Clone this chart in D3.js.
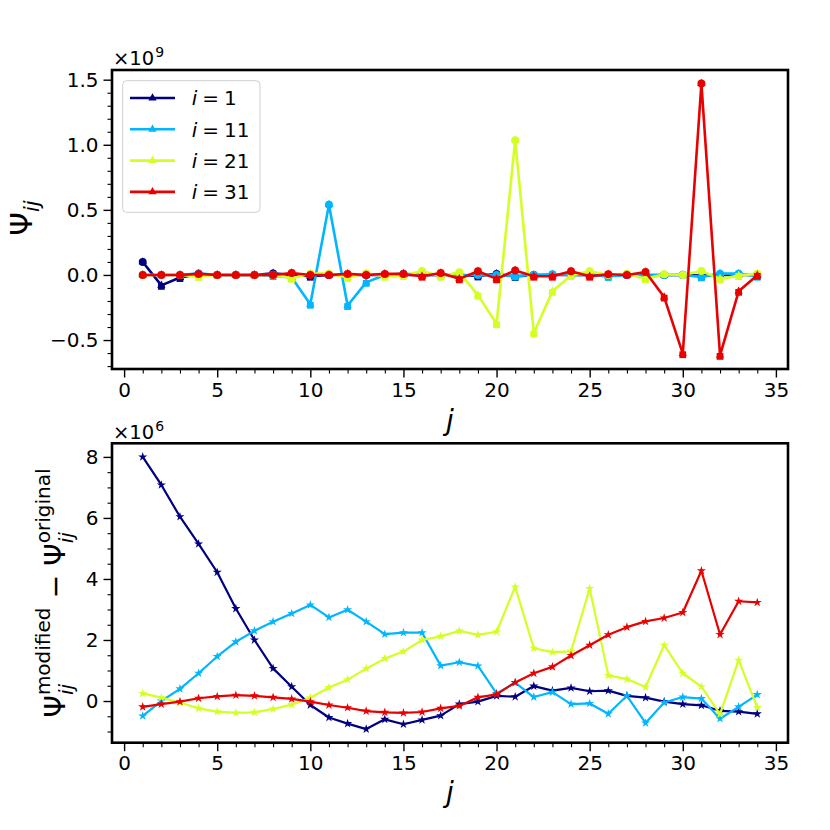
<!DOCTYPE html>
<html>
<head>
<meta charset="utf-8">
<script src="https://cdn.jsdelivr.net/npm/d3@7"></script>
<style>
html,body{margin:0;padding:0;background:#fff;}
svg{display:block;font-family:"DejaVu Sans",sans-serif;}
</style>
</head>
<body>
<svg id="chart" width="830" height="830"></svg>
<script>
// ---------------- DATA ----------------
const j = d3.range(1, 35); // 1..34
const seriesLabels = ["1", "11", "21", "31"];
const seriesColors = ["#000080", "#00b6ff", "#d3ff24", "#e90000"];

// Top panel: Psi_ij (x 1e9)
const psi_i1  = [0.10,-0.08,-0.02,0.005,0,0,0,0.012,0,-0.01,0,0,0,0,0,0,0,0,-0.008,0.008,-0.012,0,0,0,0,0,0,0,0,0,-0.005,0,0,0];
const psi_i11 = [0,0,0,0.012,0,0,0,-0.005,-0.02,-0.225,0.54,-0.235,-0.057,0,0.01,0,0,0,0,0,-0.008,0,0.005,0,0,-0.012,0,-0.005,0,0,-0.015,0.01,0.01,-0.01];
const psi_i21 = [0,0,0,-0.012,0,0,0,0,-0.026,0.01,0.01,-0.02,0.012,-0.01,-0.005,0.03,-0.01,0.02,-0.155,-0.375,1.035,-0.446,-0.126,-0.005,0.028,0,0.01,-0.03,0.005,0,0.03,-0.03,-0.005,0.01];
const psi_i31 = [0,0,0,0.008,0,0,0,0,0.015,0,0,0.008,0,0.008,0.008,-0.01,0.015,-0.03,0.028,-0.03,0.035,-0.01,-0.01,0.028,-0.01,0.005,0,0.023,-0.17,-0.605,1.47,-0.618,-0.126,-0.003];

// Bottom panel: Psi_modified - Psi_original (x 1e6)
const diff_i1  = [8.0,7.08,6.04,5.15,4.22,3.03,2.0,1.07,0.47,-0.13,-0.54,-0.74,-0.92,-0.6,-0.76,-0.62,-0.48,-0.1,-0.02,0.17,0.14,0.49,0.34,0.43,0.32,0.34,0.17,0.11,-0.02,-0.1,-0.14,-0.32,-0.35,-0.42];
const diff_i11 = [-0.49,0.0,0.4,0.91,1.46,1.94,2.3,2.6,2.87,3.15,2.74,2.99,2.6,2.19,2.24,2.24,1.16,1.27,1.15,0.25,0.6,0.13,0.29,-0.1,-0.08,-0.42,0.17,-0.72,-0.05,0.13,0.08,-0.58,-0.19,0.21];
const diff_i21 = [0.25,0.11,-0.05,-0.24,-0.35,-0.39,-0.37,-0.26,-0.12,0.11,0.44,0.7,1.06,1.39,1.62,2.0,2.12,2.3,2.17,2.27,3.74,1.73,1.6,1.63,3.69,0.84,0.72,0.46,1.83,0.91,0.47,-0.43,1.34,-0.21];
const diff_i31 = [-0.19,-0.1,-0.02,0.09,0.15,0.19,0.17,0.12,0.07,-0.02,-0.13,-0.22,-0.33,-0.37,-0.39,-0.36,-0.24,-0.16,0.12,0.22,0.61,0.91,1.12,1.49,1.83,2.17,2.42,2.61,2.72,2.9,4.27,2.18,3.27,3.23];

const xMajor = [0,5,10,15,20,25,30,35];
const topYMajor = [-0.5,0.0,0.5,1.0,1.5];
const botYMajor = [0,2,4,6,8];

// ---------------- LAYOUT ----------------
const svg = d3.select("#chart");
const FONT = "DejaVu Sans";
const TICKFS = 20;
const L = 112, R = 788;
const topBox = {t:70, b:369};
const botBox = {t:443.3, b:742.7};

const topSeries = [psi_i1, psi_i11, psi_i21, psi_i31];
const botSeries = [diff_i1, diff_i11, diff_i21, diff_i31];

function padDomain(arrs){
  const all = arrs.flat();
  const mn = d3.min(all), mx = d3.max(all), p = (mx-mn)*0.05;
  return [mn-p, mx+p];
}
const xDom = [d3.min(j), d3.max(j)];
const xPad = (xDom[1]-xDom[0])*0.05;
const x = d3.scaleLinear().domain([xDom[0]-xPad, xDom[1]+xPad]).range([L, R]);
const yTop = d3.scaleLinear().domain(padDomain(topSeries)).range([topBox.b, topBox.t]);
const yBot = d3.scaleLinear().domain(padDomain(botSeries)).range([botBox.b, botBox.t]);

// math text helper
function mathText(parent, items, anchor){
  const g = parent.append("g");
  let cx = 0, lastStart = 0;
  items.forEach(it => {
    const start = it.stack ? lastStart : cx + (it.gap||0);
    const t = g.append("text")
      .attr("x", start).attr("y", -(it.shift||0))
      .style("font-family", FONT)
      .style("font-size", it.size + "px")
      .style("font-style", it.italic ? "italic" : "normal")
      .attr("fill", "#000")
      .text(it.t);
    const w = t.node().getComputedTextLength();
    if (!it.stack) lastStart = start;
    cx = Math.max(cx, start + w);
  });
  if (anchor === "middle") g.selectAll("text").attr("x", function(){ return +d3.select(this).attr("x") - cx/2; });
  return g;
}

function drawAxes(box, y, yMajor, yMinor, yFmt){
  const gx = svg.append("g").attr("transform", `translate(0,${box.b})`);
  gx.call(d3.axisBottom(x).tickValues(xMajor).tickSize(8.5).tickPadding(5).tickFormat(d3.format("d")));
  const xMinor = d3.range(0, 36).filter(v => xMajor.indexOf(v) < 0);
  const gxm = svg.append("g").attr("transform", `translate(0,${box.b})`);
  gxm.call(d3.axisBottom(x).tickValues(xMinor).tickSize(4.5).tickFormat(""));
  const gy = svg.append("g").attr("transform", `translate(${L},0)`);
  gy.call(d3.axisLeft(y).tickValues(yMajor).tickSize(8.5).tickPadding(5).tickFormat(yFmt));
  const gym = svg.append("g").attr("transform", `translate(${L},0)`);
  gym.call(d3.axisLeft(y).tickValues(yMinor).tickSize(4.5).tickFormat(""));
  [gx, gxm, gy, gym].forEach(g => {
    g.select(".domain").remove();
    g.selectAll(".tick line").attr("stroke", "#000").attr("stroke-width", 1.4);
    g.selectAll(".tick text").style("font-family", FONT).style("font-size", TICKFS + "px").attr("fill", "#000");
  });
  gxm.selectAll(".tick line").attr("stroke-width", 1.1);
  gym.selectAll(".tick line").attr("stroke-width", 1.1);
}

function clip(id, box){
  svg.append("clipPath").attr("id", id).append("rect")
    .attr("x", L).attr("y", box.t).attr("width", R-L).attr("height", box.b-box.t);
}
clip("clipTop", topBox);
clip("clipBot", botBox);

// ---------------- TOP PANEL ----------------
const topMinor = d3.range(-7, 16).map(v => +(v/10).toFixed(1)).filter(v => topYMajor.indexOf(v) < 0);
drawAxes(topBox, yTop, topYMajor, topMinor, d3.format(".1f"));

const gTop = svg.append("g").attr("clip-path", "url(#clipTop)");
const lineTop = d3.line().x((d,i) => x(j[i])).y(d => yTop(d));
topSeries.forEach((s, k) => {
  const col = seriesColors[k];
  gTop.append("path").datum(s).attr("d", lineTop).attr("fill", "none")
    .attr("stroke", col).attr("stroke-width", 2.6).attr("stroke-linejoin", "round");
  gTop.selectAll(null).data(s).enter().append("path")
    .attr("transform", (d,i) => `translate(${x(j[i])},${yTop(d)})`)
    .attr("d", d3.symbol(d3.symbolTriangle, 30)).attr("fill", col);
  gTop.selectAll(null).data(s).enter().append("path")
    .attr("transform", (d,i) => `translate(${x(j[i])},${yTop(d) + (d < 0 ? 1 : 0)})`)
    .attr("d", d => d >= 0 ? d3.symbol(d3.symbolCircle, 50)() : d3.symbol(d3.symbolSquare, 46)())
    .attr("fill", col);
});

svg.append("rect").attr("x", L).attr("y", topBox.t).attr("width", R-L).attr("height", topBox.b-topBox.t)
  .attr("fill", "none").attr("stroke", "#000").attr("stroke-width", 2.6);

// legend
const lg = svg.append("g");
lg.append("rect").attr("x", 122.7).attr("y", 80.7).attr("width", 137.3).attr("height", 131.6)
  .attr("rx", 4).attr("fill", "#fff").attr("fill-opacity", 0.8).attr("stroke", "#d0d0d0").attr("stroke-width", 1);
seriesLabels.forEach((lab, k) => {
  const yy = 98 + k*31.3;
  lg.append("line").attr("x1", 130).attr("x2", 175).attr("y1", yy).attr("y2", yy)
    .attr("stroke", seriesColors[k]).attr("stroke-width", 2.6);
  lg.append("path").attr("transform", `translate(152.5,${yy})`)
    .attr("d", d3.symbol(d3.symbolTriangle, 30)).attr("fill", seriesColors[k]);
  const t = mathText(lg, [
    {t:"i", size:20, italic:true},
    {t:"=", size:20, gap:5},
    {t:lab, size:20, gap:5}
  ]);
  t.attr("transform", `translate(191.7,${yy+7.3})`);
});

// offset text top
mathText(svg, [{t:"×10", size:19.5}, {t:"9", size:14, shift:8, gap:1}]).attr("transform", "translate(113,65)");

// x label top
mathText(svg, [{t:"j", size:28, italic:true}], "middle").attr("transform", `translate(${(L+R)/2},430)`);

// y label top
mathText(svg, [{t:"Ψ", size:30}, {t:"ij", size:21, italic:true, shift:-7, gap:0}], "middle")
  .attr("transform", "translate(32,218) rotate(-90)");

// ---------------- BOTTOM PANEL ----------------
const botMinor = d3.range(-2, 17).map(v => v/2).filter(v => botYMajor.indexOf(v) < 0);
drawAxes(botBox, yBot, botYMajor, botMinor, d3.format("d"));

const gBot = svg.append("g").attr("clip-path", "url(#clipBot)");
const lineBot = d3.line().x((d,i) => x(j[i])).y(d => yBot(d));
botSeries.forEach((s, k) => {
  const col = seriesColors[k];
  gBot.append("path").datum(s).attr("d", lineBot).attr("fill", "none")
    .attr("stroke", col).attr("stroke-width", 2.2).attr("stroke-linejoin", "round");
  gBot.selectAll(null).data(s).enter().append("path")
    .attr("transform", (d,i) => `translate(${x(j[i])},${yBot(d)})`)
    .attr("d", d3.symbol(d3.symbolStar, 26)).attr("fill", col);
});

svg.append("rect").attr("x", L).attr("y", botBox.t).attr("width", R-L).attr("height", botBox.b-botBox.t)
  .attr("fill", "none").attr("stroke", "#000").attr("stroke-width", 2.6);

mathText(svg, [{t:"×10", size:19.5}, {t:"6", size:14, shift:8, gap:1}]).attr("transform", "translate(113,439)");
mathText(svg, [{t:"j", size:28, italic:true}], "middle").attr("transform", `translate(${(L+R)/2},802)`);

mathText(svg, [
  {t:"Ψ", size:28.5},
  {t:"ij", size:20, italic:true, shift:-8, gap:0},
  {t:"modified", size:20, shift:15, stack:true},
  {t:"−", size:28.5, gap:9},
  {t:"Ψ", size:28.5, gap:9},
  {t:"ij", size:20, italic:true, shift:-8, gap:0},
  {t:"original", size:20, shift:15, stack:true}
], "middle").attr("transform", "translate(65,593) rotate(-90)");
</script>
</body>
</html>
